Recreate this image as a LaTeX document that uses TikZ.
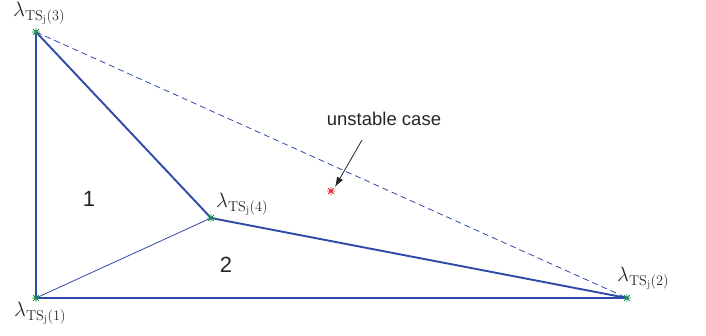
\documentclass[tikz,border=0pt]{standalone}
\usepackage{fontspec}
\newfontfamily\plotfont{Liberation Sans}
\usetikzlibrary{arrows.meta, positioning, calc}
\definecolor{mblue}{HTML}{2E49A8}
\definecolor{mgreen}{HTML}{1C8A4A}
\definecolor{mred}{HTML}{E8262E}
\definecolor{mtext}{HTML}{262626}
\tikzset{
  every picture/.style={x=1pt, y=-1pt},
  edge/.style={draw=mblue, line width=1.9pt},
  thinedge/.style={draw=mblue, line width=0.8pt},
  hull/.style={draw=mblue, line width=0.8pt, dash pattern=on 6pt off 4pt},
  lam/.style={font=\fontsize{20.5}{23}\selectfont, text=mtext, inner sep=0pt},
  region/.style={font=\plotfont\fontsize{22}{25}\selectfont, text=mtext},
  note/.style={font=\plotfont\fontsize{18.5}{21}\selectfont, text=mtext},
  pointer/.style={-{Latex[length=10pt, width=7pt]}, draw=mtext, line width=0.8pt},
}
\newcommand{\mstar}[2]{ % coordinate, colour
  \draw[#2, line width=0.9pt] ($(#1)+(-4,0)$) -- ++(8,0) ($(#1)+(0,-4)$) -- ++(0,8)
    ($(#1)+(-2.8,-2.8)$) -- ++(5.6,5.6) ($(#1)+(-2.8,2.8)$) -- ++(5.6,-5.6);
}
\begin{document}
\begin{tikzpicture}
  \useasboundingbox (0,0) rectangle (706,336);
  % vertices
  \coordinate (p1) at (36,298);
  \coordinate (p2) at (627,298);
  \coordinate (p3) at (36,32);
  \coordinate (p4) at (211,218);
  \coordinate (bad) at (331,191);
  % edges
  \draw[hull] (p3) -- (p2);
  \draw[thinedge] (p1) -- (p4);
  \draw[edge] (p1) -- (p3) -- (p4) -- (p2) -- cycle;
  % markers
  \mstar{p1}{mgreen}
  \mstar{p2}{mgreen}
  \mstar{p3}{mgreen}
  \mstar{p4}{mgreen}
  \mstar{bad}{mred}
  % labels
  \node[lam, anchor=south west] (l3) at (13,25) {$\lambda_{\mathrm{TS_j(3)}}$};
  \node[lam, anchor=north west] (l1) at (14,302) {$\lambda_{\mathrm{TS_j(1)}}$};
  \node[lam, anchor=south west] (l4) at (216,216) {$\lambda_{\mathrm{TS_j(4)}}$};
  \node[lam, anchor=south west] (l2) at (617,290) {$\lambda_{\mathrm{TS_j(2)}}$};
  \node[region] (r1) at (89,199) {1};
  \node[region] (r2) at (226,265) {2};
  \node[note] (case) at (384,119) {unstable case};
  \coordinate (tail) at (362,140);
  \coordinate (tip) at (335,187);
  \draw[pointer] (tail) -- (tip);
\end{tikzpicture}
\end{document}
